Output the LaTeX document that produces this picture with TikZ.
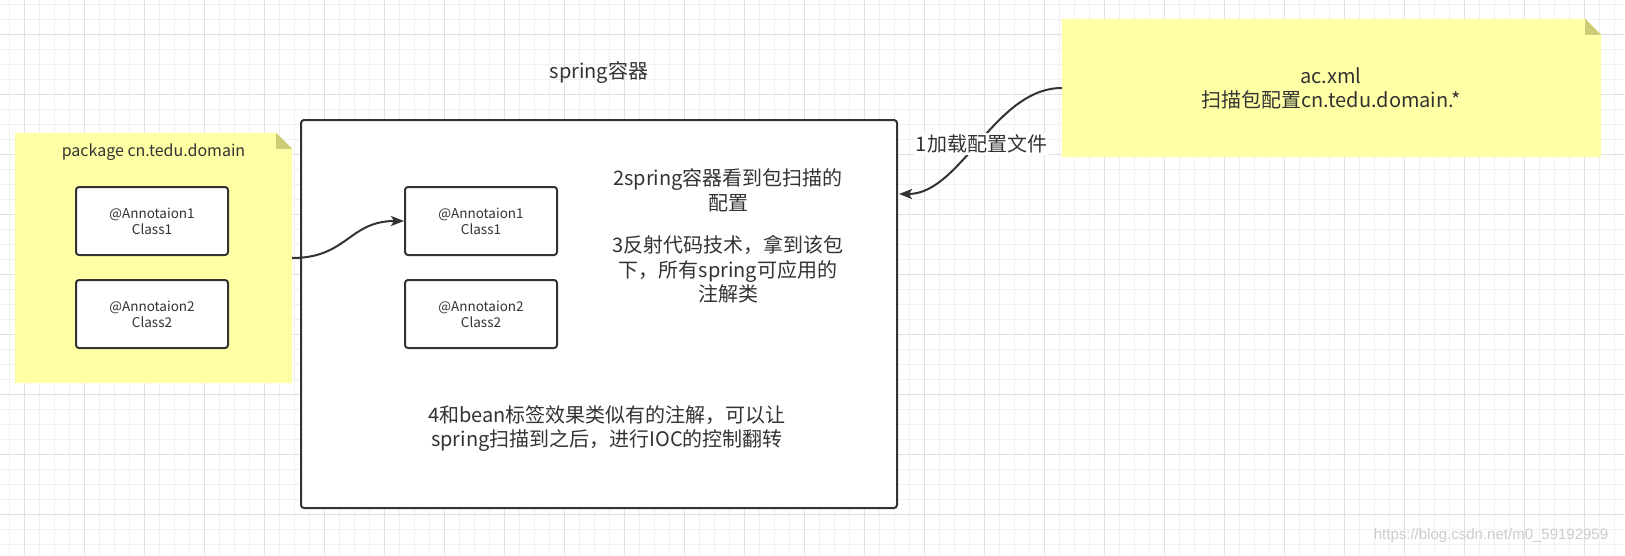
\documentclass[tikz,border=0pt]{standalone}
\usepackage{fontspec}
\setmainfont{Noto Sans CJK SC}
\newfontfamily\wmfont{Liberation Sans}
\usetikzlibrary{arrows.meta}
\definecolor{notey}{RGB}{255,255,166}
\definecolor{foldc}{RGB}{205,205,120}
\definecolor{ink}{RGB}{51,51,51}
\definecolor{gridminor}{RGB}{240,240,240}
\definecolor{gridmajor}{RGB}{224,224,224}
\tikzset{
  bigtxt/.style={text=ink, align=center, inner sep=0pt, font=\fontsize{20}{24.5}\selectfont},
  smalltxt/.style={text=ink, align=center, font=\fontsize{13.5}{16}\selectfont},
  classbox/.style={draw=ink, line width=2pt, fill=white, rounded corners=3pt,
    minimum width=152pt, minimum height=68pt, smalltxt},
  container/.style={draw=ink, line width=2pt, fill=white, rounded corners=3pt,
    minimum width=596pt, minimum height=388pt},
  noteshape/.style={draw=none, inner sep=0pt},
  conn/.style={draw=ink, line width=2pt, -{Stealth[length=13pt,width=10pt,inset=3pt]}},
  lbl/.style={fill=white, text=ink, inner sep=1.5pt, font=\fontsize{20}{24}\selectfont},
}
\begin{document}
\begin{tikzpicture}[x=1pt,y=-1pt]
\useasboundingbox (0,0) rectangle (1625,555);
\fill[white] (0,0) rectangle (1625,555);
% grid
\foreach \i in {0,...,107} \draw[gridminor, line width=1pt] (9.5+15*\i,0) -- ++(0,555);
\foreach \i in {0,...,36} \draw[gridminor, line width=1pt] (0,4.5+15*\i) -- ++(1625,0);
\foreach \i in {0,...,26} \draw[gridmajor, line width=1pt] (24.5+60*\i,0) -- ++(0,555);
\foreach \i in {0,...,8} \draw[gridmajor, line width=1pt] (0,34.5+60*\i) -- ++(1625,0);

% left note (package)
\node[noteshape, minimum width=277pt, minimum height=250pt] (pkg) at (153.5,258) {};
\fill[notey] (pkg.south west) -- (pkg.north west) -- ([xshift=-16pt]pkg.north east)
  -- ([yshift=-16pt]pkg.north east) -- (pkg.south east) -- cycle;
\fill[foldc] ([xshift=-16pt]pkg.north east) -- ([xshift=-16pt,yshift=-16pt]pkg.north east)
  -- ([yshift=-16pt]pkg.north east) -- cycle;
\node[text=ink, font=\fontsize{16}{19}\selectfont] (pkgt) at (153.5,152) {package cn.tedu.domain};
\node[classbox] (a1) at (152,221) {@Annotaion1\\Class1};
\node[classbox] (a2) at (152,314) {@Annotaion2\\Class2};

% right note (ac.xml)
\node[noteshape, minimum width=539pt, minimum height=138pt] (ac) at (1331.5,88) {};
\fill[notey] (ac.south west) -- (ac.north west) -- ([xshift=-16pt]ac.north east)
  -- ([yshift=-16pt]ac.north east) -- (ac.south east) -- cycle;
\fill[foldc] ([xshift=-16pt]ac.north east) -- ([xshift=-16pt,yshift=-16pt]ac.north east)
  -- ([yshift=-16pt]ac.north east) -- cycle;
\node[bigtxt] (act) at (1331,88.5) {ac.xml\\扫描包配置cn.tedu.domain.*};

% container
\node[bigtxt] (title) at (599,73) {spring容器};
\node[container] (main) at (599,314) {};
\node[classbox] (b1) at (481,221) {@Annotaion1\\Class1};
\node[classbox] (b2) at (481,314) {@Annotaion2\\Class2};
\node[bigtxt] (t2) at (728,190.5) {2spring容器看到包扫描的\\配置};
\node[bigtxt] (t3) at (728,269.5) {3反射代码技术，拿到该包\\下，所有spring可应用的\\注解类};
\node[bigtxt] (t4) at (607,428.5) {4和bean标签效果类似有的注解，可以让\\spring扫描到之后，进行IOC的控制翻转};

% connectors
\coordinate (mainin) at ([xshift=1pt,yshift=-75pt]main.north east);
\draw[conn] (ac.west) .. controls +(-67,0) and +(62,0) .. (mainin)
  node[lbl, pos=0.5, xshift=3pt, yshift=-3pt] {1加载配置文件};
\draw[conn] (pkg.east) .. controls +(55,0) and +(-55,0) .. (b1.west);

% watermark
\node[text=black!20, font=\wmfont\fontsize{15}{18}\selectfont] (wm) at (1491,536) {https://blog.csdn.net/m0\_59192959};
\end{tikzpicture}
\end{document}
